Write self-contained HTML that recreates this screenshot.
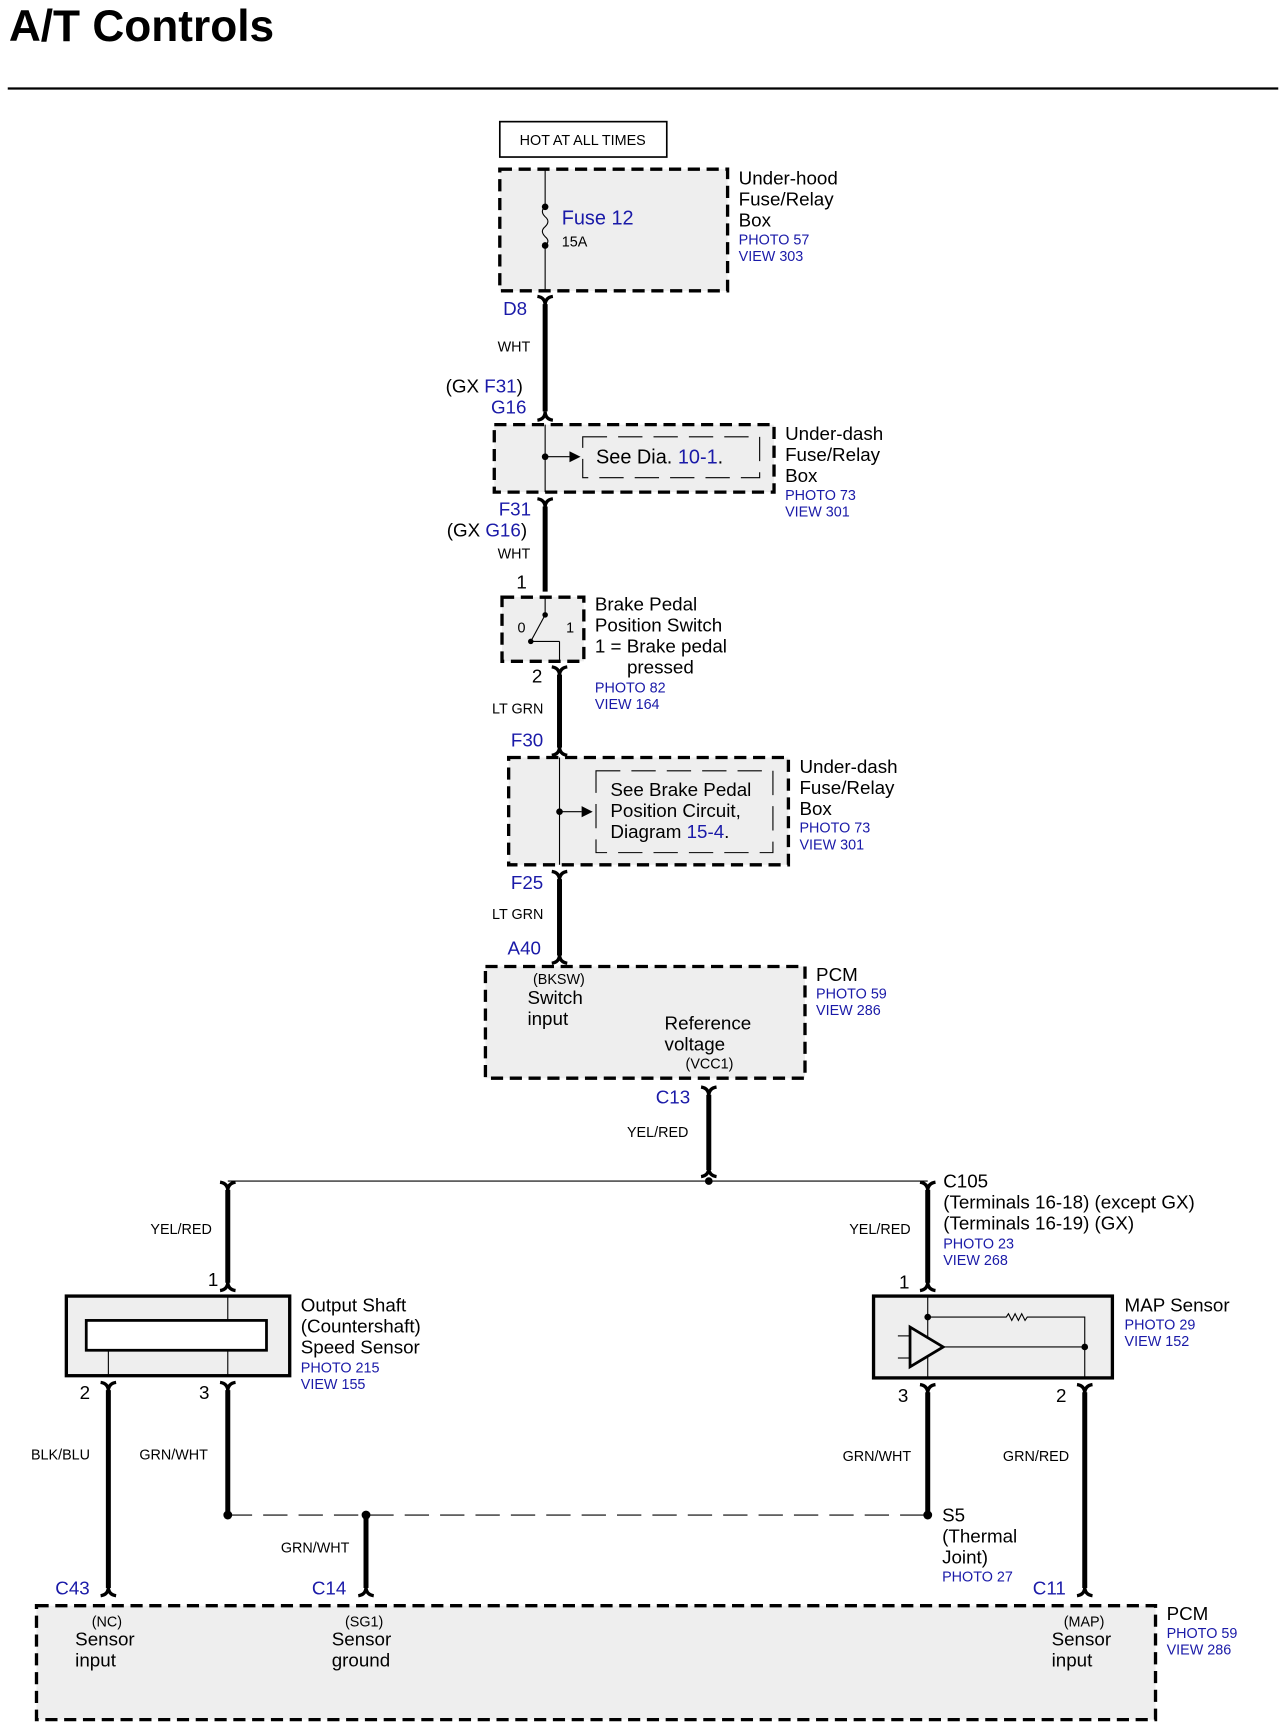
<!DOCTYPE html>
<html><head><meta charset="utf-8"><style>
html,body{margin:0;padding:0;background:#fff}
svg{display:block}
text{font-family:"Liberation Sans",sans-serif;fill:#000}
.b{fill:#1a1aa8}
.s{font-size:13px}
.m{font-size:17px}
.p{font-size:13px;fill:#1a1aa8}
.box{fill:#eee;stroke:#000;stroke-width:3;stroke-dasharray:11 6}
.w{stroke:#000;stroke-width:4.5;fill:none}
.t{stroke:#000;stroke-width:1;fill:none}
</style></head><body>
<svg width="1286" height="1734" viewBox="0 0 1163 1568" preserveAspectRatio="none" xmlns="http://www.w3.org/2000/svg">
<defs>
<g id="cd"><path d="M-7,0 Q0,1 0,8 M7,0 Q0,1 0,8" stroke="#000" stroke-width="3" fill="none"/></g>
<g id="cu"><path d="M-7,0 Q0,-1 0,-8 M7,0 Q0,-1 0,-8" stroke="#000" stroke-width="3" fill="none"/></g>
</defs>
<text x="8" y="37" style="font-size:40px;font-weight:bold">A/T Controls</text>
<line x1="7" y1="80" x2="1156" y2="80" stroke="#000" stroke-width="2"/>

<rect x="452" y="110" width="151" height="32" fill="#fff" stroke="#000" stroke-width="1.5"/>
<text x="527" y="131" class="s" text-anchor="middle">HOT AT ALL TIMES</text>

<!-- box1 -->
<rect x="452" y="153" width="206" height="110" class="box"/>
<line x1="493" y1="153" x2="493" y2="187" class="t"/>
<path d="M493,187 q-5,4 0,9 q5,4 0,9 q-5,4 0,9 q5,4 0,8" class="t"/>
<line x1="493" y1="222" x2="493" y2="263" class="t"/>
<circle cx="493" cy="187" r="3"/><circle cx="493" cy="222" r="3"/>
<text x="508" y="203" style="font-size:18px" class="b">Fuse 12</text>
<text x="508" y="223" class="s">15A</text>
<text x="668" y="167" class="m">Under-hood</text><text x="668" y="186" class="m">Fuse/Relay</text><text x="668" y="205" class="m">Box</text>
<text x="668" y="221" class="p">PHOTO 57</text><text x="668" y="236" class="p">VIEW 303</text>

<use href="#cd" x="493" y="268"/>
<line x1="493" y1="275" x2="493" y2="372" class="w"/>
<use href="#cu" x="493" y="380"/>
<text x="455" y="285" class="m b">D8</text>
<text x="450" y="318" class="s">WHT</text>
<text x="403" y="355" class="m">(GX <tspan class="b">F31</tspan>)</text>
<text x="444" y="374" class="m b">G16</text>

<!-- box2 -->
<rect x="447" y="384" width="253" height="61" class="box"/>
<line x1="493" y1="384" x2="493" y2="445" class="t"/>
<circle cx="493" cy="413" r="3"/>
<line x1="493" y1="413" x2="515" y2="413" class="t"/><path d="M515,408 L525,413 L515,418Z"/>
<rect x="527" y="395" width="160" height="37" fill="none" stroke="#000" stroke-width="1" stroke-dasharray="22 10"/>
<text x="539" y="419" style="font-size:18px">See Dia. <tspan class="b">10-1</tspan>.</text>
<text x="710" y="398" class="m">Under-dash</text><text x="710" y="417" class="m">Fuse/Relay</text><text x="710" y="436" class="m">Box</text>
<text x="710" y="452" class="p">PHOTO 73</text><text x="710" y="467" class="p">VIEW 301</text>

<use href="#cd" x="493" y="451"/>
<line x1="493" y1="458" x2="493" y2="535" class="w"/>
<text x="451" y="466" class="m b">F31</text>
<text x="404" y="485" class="m">(GX <tspan class="b">G16</tspan>)</text>
<text x="450" y="505" class="s">WHT</text>
<text x="467" y="532" class="m">1</text>

<!-- switch box -->
<rect x="454" y="540" width="74" height="58" class="box"/>
<line x1="493" y1="540" x2="493" y2="556" class="t"/><circle cx="493" cy="556" r="2.5"/>
<line x1="493" y1="556" x2="480" y2="580" class="t"/><circle cx="480" cy="580" r="2.5"/>
<line x1="480" y1="580" x2="506" y2="580" class="t"/><line x1="506" y1="580" x2="506" y2="598" class="t"/>
<text x="468" y="572" class="s">0</text><text x="512" y="572" class="s">1</text>
<text x="481" y="617" class="m">2</text>
<text x="538" y="552" class="m">Brake Pedal</text><text x="538" y="571" class="m">Position Switch</text>
<text x="538" y="590" class="m">1 = Brake pedal</text><text x="567" y="609" class="m">pressed</text>
<text x="538" y="626" class="p">PHOTO 82</text><text x="538" y="641" class="p">VIEW 164</text>

<use href="#cd" x="506" y="603"/>
<line x1="506" y1="610" x2="506" y2="676" class="w"/>
<use href="#cu" x="506" y="683"/>
<text x="445" y="645" class="s">LT GRN</text>
<text x="462" y="675" class="m b">F30</text>

<!-- box4 -->
<rect x="460" y="685" width="253" height="97" class="box"/>
<line x1="506" y1="685" x2="506" y2="782" class="t"/>
<circle cx="506" cy="734" r="3"/>
<line x1="506" y1="734" x2="526" y2="734" class="t"/><path d="M526,729 L536,734 L526,739Z"/>
<rect x="539" y="697" width="160" height="74" fill="none" stroke="#000" stroke-width="1" stroke-dasharray="22 10"/>
<text x="552" y="720" class="m">See Brake Pedal</text><text x="552" y="739" class="m">Position Circuit,</text>
<text x="552" y="758" class="m">Diagram <tspan class="b">15-4</tspan>.</text>
<text x="723" y="699" class="m">Under-dash</text><text x="723" y="718" class="m">Fuse/Relay</text><text x="723" y="737" class="m">Box</text>
<text x="723" y="753" class="p">PHOTO 73</text><text x="723" y="768" class="p">VIEW 301</text>

<use href="#cd" x="506" y="788"/>
<line x1="506" y1="795" x2="506" y2="864" class="w"/>
<use href="#cu" x="506" y="871"/>
<text x="462" y="804" class="m b">F25</text>
<text x="445" y="831" class="s">LT GRN</text>
<text x="459" y="863" class="m b">A40</text>

<!-- PCM -->
<rect x="439" y="874" width="289" height="101" class="box"/>
<text x="482" y="890" class="s">(BKSW)</text>
<text x="477" y="908" class="m">Switch</text><text x="477" y="927" class="m">input</text>
<text x="601" y="931" class="m">Reference</text><text x="601" y="950" class="m">voltage</text>
<text x="620" y="966" class="s">(VCC1)</text>
<text x="738" y="887" class="m">PCM</text><text x="738" y="903" class="p">PHOTO 59</text><text x="738" y="918" class="p">VIEW 286</text>

<use href="#cd" x="641" y="983"/>
<line x1="641" y1="990" x2="641" y2="1058" class="w"/>
<use href="#cu" x="641" y="1064"/>
<text x="593" y="998" class="m b">C13</text>
<text x="567" y="1028" class="s">YEL/RED</text>

<line x1="206" y1="1068" x2="839" y2="1068" class="t"/>
<circle cx="641" cy="1068" r="3.5"/>
<use href="#cd" x="206" y="1069"/><use href="#cd" x="839" y="1069"/>

<!-- left sensor -->
<line x1="206" y1="1076" x2="206" y2="1160" class="w"/>
<use href="#cu" x="206" y="1167"/>
<text x="136" y="1116" class="s">YEL/RED</text>
<text x="188" y="1163" class="m">1</text>
<rect x="60" y="1172" width="202" height="72" fill="#eee" stroke="#000" stroke-width="3"/>
<rect x="78" y="1194" width="163" height="27" fill="#fff" stroke="#000" stroke-width="2.5"/>
<line x1="206" y1="1172" x2="206" y2="1194" class="t"/><line x1="206" y1="1221" x2="206" y2="1244" class="t"/>
<line x1="98" y1="1221" x2="98" y2="1244" class="t"/>
<text x="272" y="1186" class="m">Output Shaft</text><text x="272" y="1205" class="m">(Countershaft)</text><text x="272" y="1224" class="m">Speed Sensor</text>
<text x="272" y="1241" class="p">PHOTO 215</text><text x="272" y="1256" class="p">VIEW 155</text>
<text x="72" y="1265" class="m">2</text><text x="180" y="1265" class="m">3</text>
<use href="#cd" x="98" y="1250"/><use href="#cd" x="206" y="1250"/>
<line x1="98" y1="1257" x2="98" y2="1436" class="w"/>
<use href="#cu" x="98" y="1443"/>
<line x1="206" y1="1257" x2="206" y2="1370" class="w"/>
<text x="28" y="1320" class="s">BLK/BLU</text><text x="126" y="1320" class="s">GRN/WHT</text>

<line x1="206" y1="1370" x2="839" y2="1370" stroke="#000" stroke-width="1" stroke-dasharray="22 10"/>
<circle cx="206" cy="1370" r="4"/><circle cx="331" cy="1370" r="4"/><circle cx="839" cy="1370" r="4"/>
<line x1="331" y1="1370" x2="331" y2="1436" class="w"/>
<use href="#cu" x="331" y="1443"/>
<text x="254" y="1404" class="s">GRN/WHT</text>

<!-- MAP sensor -->
<line x1="839" y1="1076" x2="839" y2="1160" class="w"/>
<use href="#cu" x="839" y="1167"/>
<text x="768" y="1116" class="s">YEL/RED</text>
<text x="853" y="1074" class="m">C105</text>
<text x="853" y="1093" class="m">(Terminals 16-18) (except GX)</text>
<text x="853" y="1112" class="m">(Terminals 16-19) (GX)</text>
<text x="853" y="1129" class="p">PHOTO 23</text><text x="853" y="1144" class="p">VIEW 268</text>
<text x="813" y="1165" class="m">1</text>
<rect x="790" y="1172" width="216" height="74" fill="#eee" stroke="#000" stroke-width="3"/>
<line x1="839" y1="1172" x2="839" y2="1246" class="t"/>
<circle cx="839" cy="1191" r="3"/>
<path d="M839,1191 H910 l2,-3 l3,6 l3,-6 l3,6 l3,-6 l3,6 l2,-3 H981 V1246" class="t"/>
<line x1="853" y1="1218" x2="981" y2="1218" class="t"/><circle cx="981" cy="1218" r="3"/>
<path d="M823,1200 L853,1218 L823,1236Z" fill="#eee" stroke="#000" stroke-width="2.5"/>
<line x1="812" y1="1208" x2="823" y2="1208" class="t"/><line x1="812" y1="1228" x2="823" y2="1228" class="t"/>
<text x="1017" y="1186" class="m">MAP Sensor</text><text x="1017" y="1202" class="p">PHOTO 29</text><text x="1017" y="1217" class="p">VIEW 152</text>
<text x="812" y="1268" class="m">3</text><text x="955" y="1268" class="m">2</text>
<use href="#cd" x="839" y="1252"/><use href="#cd" x="981" y="1252"/>
<line x1="839" y1="1259" x2="839" y2="1370" class="w"/>
<line x1="981" y1="1259" x2="981" y2="1436" class="w"/>
<use href="#cu" x="981" y="1443"/>
<text x="762" y="1321" class="s">GRN/WHT</text><text x="907" y="1321" class="s">GRN/RED</text>
<text x="852" y="1376" class="m">S5</text><text x="852" y="1395" class="m">(Thermal</text><text x="852" y="1414" class="m">Joint)</text>
<text x="852" y="1430" class="p">PHOTO 27</text>

<text x="50" y="1442" class="m b">C43</text>
<text x="282" y="1442" class="m b">C14</text>
<text x="934" y="1442" class="m b">C11</text>

<!-- bottom PCM -->
<rect x="33" y="1452" width="1012" height="103" class="box"/>
<text x="83" y="1471" class="s">(NC)</text><text x="68" y="1488" class="m">Sensor</text><text x="68" y="1507" class="m">input</text>
<text x="312" y="1471" class="s">(SG1)</text><text x="300" y="1488" class="m">Sensor</text><text x="300" y="1507" class="m">ground</text>
<text x="962" y="1471" class="s">(MAP)</text><text x="951" y="1488" class="m">Sensor</text><text x="951" y="1507" class="m">input</text>
<text x="1055" y="1465" class="m">PCM</text><text x="1055" y="1481" class="p">PHOTO 59</text><text x="1055" y="1496" class="p">VIEW 286</text>
</svg>
</body></html>
